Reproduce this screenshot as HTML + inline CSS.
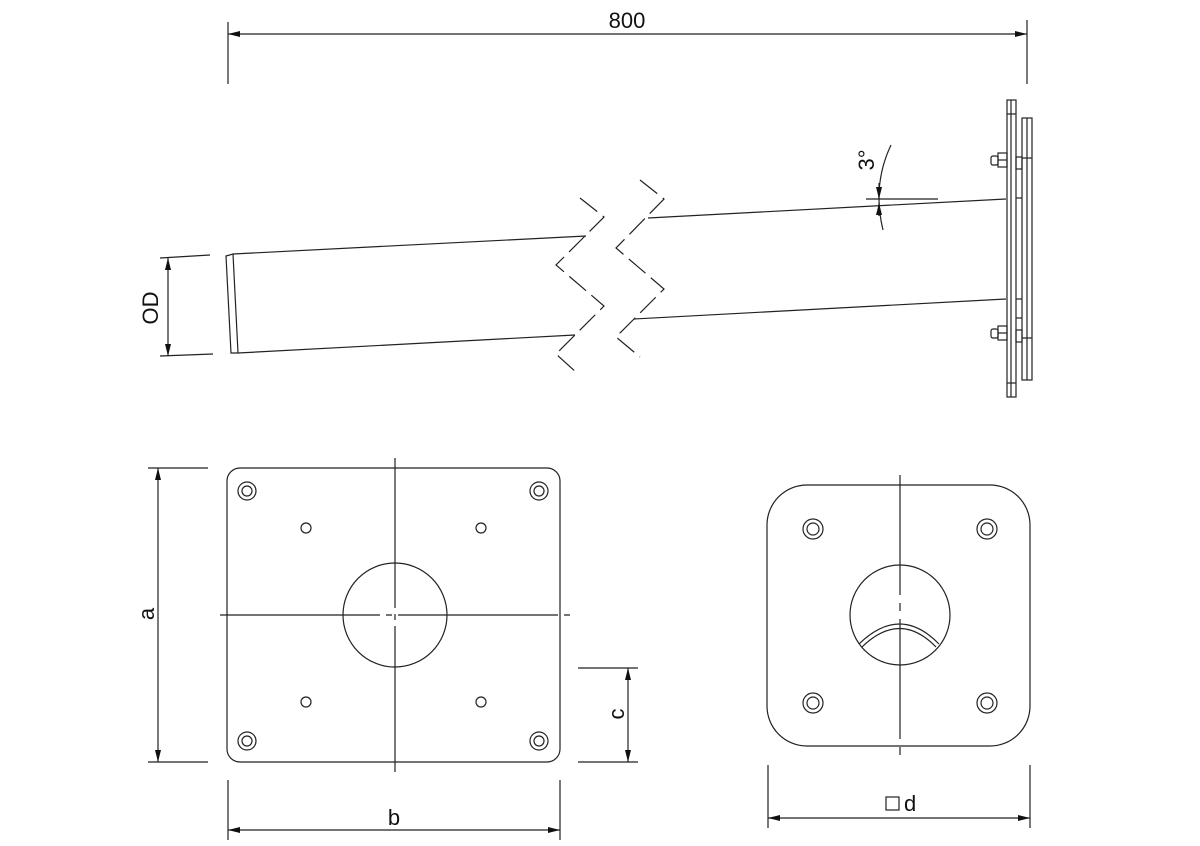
<!DOCTYPE html>
<html><head><style>body{margin:0;background:#fff}svg{display:block}text{font-family:"Liberation Sans",sans-serif;fill:#111}</style></head>
<body>
<svg width="1200" height="846" viewBox="0 0 1200 846" xmlns="http://www.w3.org/2000/svg">
<defs>
<marker id="a" viewBox="0 0 12 6" refX="12" refY="3" markerWidth="12" markerHeight="6" orient="auto-start-reverse" markerUnits="userSpaceOnUse"><path d="M0,0 L12,3 L0,6 z" fill="#111"/></marker>
</defs>
<g stroke="#222" stroke-width="1.2" fill="none">
<!-- 800 dim -->
<line x1="228" y1="22" x2="228" y2="84"/><line x1="1027" y1="20" x2="1027" y2="84"/>
<line x1="228" y1="34" x2="1027" y2="34" marker-start="url(#a)" marker-end="url(#a)"/>
<!-- OD dim -->
<line x1="160" y1="258" x2="210" y2="255"/><line x1="160" y1="356" x2="213" y2="354"/>
<line x1="168" y1="258" x2="168" y2="356" marker-start="url(#a)" marker-end="url(#a)"/>
<!-- pipe -->
<path d="M226,256 L233,254 L238,353 L231,353 Z"/>
<line x1="233" y1="254" x2="586" y2="236"/>
<line x1="238" y1="353" x2="575" y2="335"/>
<line x1="648" y1="218" x2="1006" y2="199"/>
<line x1="634" y1="319" x2="1006" y2="299"/>
<path d="M580,198 L604,217 L556,265 L604,306 L556,354 L578,374" stroke-dasharray="22,7"/>
<path d="M640,180 L664,199 L616,248 L664,289 L616,337 L640,357" stroke-dasharray="22,7"/>
<!-- 3 deg -->
<line x1="866" y1="199" x2="938" y2="199"/>
<path d="M891,145 Q872,185 883,230"/>
<line x1="879" y1="183" x2="879" y2="199" marker-end="url(#a)"/>
<line x1="879" y1="216" x2="879" y2="203" marker-end="url(#a)"/>
<!-- end plates -->
<rect x="1007" y="100" width="9" height="297"/>
<line x1="1011" y1="100" x2="1011" y2="397"/>
<line x1="1007" y1="114" x2="1016" y2="114"/><line x1="1007" y1="383" x2="1016" y2="383"/>
<rect x="1022" y="118" width="10" height="262"/>
<line x1="1027" y1="118" x2="1027" y2="380"/>
<line x1="1022" y1="158" x2="1032" y2="158"/><line x1="1022" y1="338" x2="1032" y2="338"/>
<rect x="1016" y="157" width="6" height="12"/><rect x="1016" y="330" width="6" height="12"/>
<line x1="1016" y1="198" x2="1022" y2="198"/><line x1="1016" y1="299" x2="1022" y2="299"/>
<line x1="1016" y1="318" x2="1022" y2="318"/>
<rect x="998" y="153" width="9" height="14"/><rect x="991" y="156" width="7" height="9" rx="2"/>
<line x1="998" y1="160" x2="1007" y2="160"/>
<rect x="998" y="326" width="9" height="14"/><rect x="991" y="329" width="7" height="9" rx="2"/>
<line x1="998" y1="333" x2="1007" y2="333"/>
<!-- left plan -->
<rect x="227" y="468" width="333" height="294" rx="13"/>
<line x1="395" y1="458" x2="395" y2="772" stroke-dasharray="150,6,6,6"/>
<line x1="220" y1="615" x2="572" y2="615" stroke-dasharray="160,6,6,6"/>
<circle cx="395" cy="615" r="52"/>
<circle cx="247" cy="491" r="9"/><circle cx="247" cy="491" r="5"/>
<circle cx="539" cy="491" r="9"/><circle cx="539" cy="491" r="5"/>
<circle cx="247" cy="741" r="9"/><circle cx="247" cy="741" r="5"/>
<circle cx="539" cy="741" r="9"/><circle cx="539" cy="741" r="5"/>
<circle cx="306" cy="528" r="5"/><circle cx="481" cy="528" r="5"/>
<circle cx="306" cy="702" r="5"/><circle cx="481" cy="702" r="5"/>
<!-- a -->
<line x1="148" y1="468" x2="208" y2="468"/><line x1="148" y1="762" x2="208" y2="762"/>
<line x1="158" y1="468" x2="158" y2="762" marker-start="url(#a)" marker-end="url(#a)"/>
<!-- b -->
<line x1="228" y1="780" x2="228" y2="840"/><line x1="560" y1="780" x2="560" y2="840"/>
<line x1="228" y1="830" x2="560" y2="830" marker-start="url(#a)" marker-end="url(#a)"/>
<!-- c -->
<line x1="578" y1="668" x2="638" y2="668"/><line x1="578" y1="762" x2="638" y2="762"/>
<line x1="628" y1="668" x2="628" y2="762" marker-start="url(#a)" marker-end="url(#a)"/>
<!-- right plan -->
<rect x="767" y="485" width="263" height="261" rx="40"/>
<line x1="900" y1="475" x2="900" y2="760" stroke-dasharray="120,8,8,8"/>
<circle cx="900" cy="615" r="50"/>
<path d="M859,644 Q900,604 939,644"/><path d="M862,647 Q900,610 936,647"/>
<circle cx="813" cy="529" r="10"/><circle cx="813" cy="529" r="6"/>
<circle cx="987" cy="529" r="10"/><circle cx="987" cy="529" r="6"/>
<circle cx="813" cy="703" r="10"/><circle cx="813" cy="703" r="6"/>
<circle cx="987" cy="703" r="10"/><circle cx="987" cy="703" r="6"/>
<!-- d -->
<line x1="768" y1="765" x2="768" y2="828"/><line x1="1030" y1="765" x2="1030" y2="828"/>
<line x1="768" y1="818" x2="1030" y2="818" marker-start="url(#a)" marker-end="url(#a)"/>
<rect x="886" y="797" width="13" height="13"/>
</g>
<g font-size="22">
<text x="627" y="28" text-anchor="middle">800</text>
<text transform="translate(158,308) rotate(-90)" text-anchor="middle">OD</text>
<text transform="translate(874,160) rotate(-90)" text-anchor="middle">3°</text>
<text transform="translate(154,614) rotate(-90)" text-anchor="middle">a</text>
<text x="394" y="825" text-anchor="middle">b</text>
<text transform="translate(624,714) rotate(-90)" text-anchor="middle">c</text>
<text x="904" y="811">d</text>
</g>
</svg>
</body></html>
